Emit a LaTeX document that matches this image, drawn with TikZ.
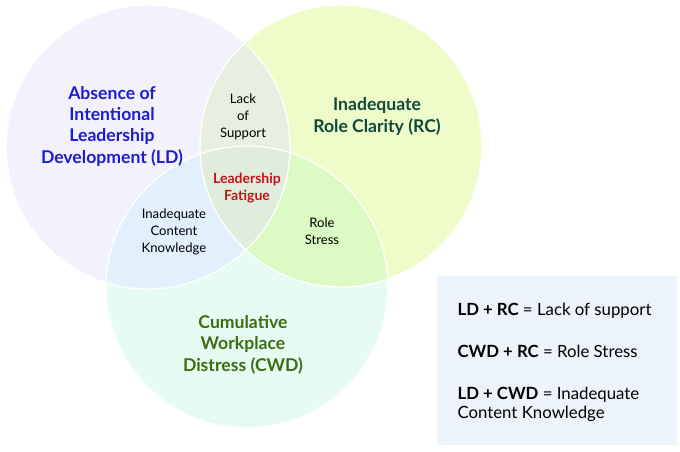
\documentclass[tikz,border=0pt]{standalone}
\usepackage{fontspec}
\setmainfont{Lato}
\definecolor{ldfill}{HTML}{F3F2FC}
\definecolor{rcfill}{HTML}{EDFCC9}
\definecolor{cwfill}{HTML}{E6FCF3}
\definecolor{abfill}{HTML}{E6EFE0}
\definecolor{acfill}{HTML}{E2EFFC}
\definecolor{bcfill}{HTML}{DCFAC3}
\definecolor{abcfill}{HTML}{E1EDDC}
\definecolor{boxfill}{HTML}{EDF3FA}
\definecolor{ldtext}{HTML}{1C1CD4}
\definecolor{rctext}{HTML}{11483A}
\definecolor{cwtext}{HTML}{3B6E10}
\definecolor{redtext}{HTML}{C4121A}
\begin{document}
\begin{tikzpicture}[x=1pt,y=-1pt,
  bigtitle/.style={anchor=base,align=center,font=\bfseries\fontsize{17.6}{21.3}\selectfont},
  smalltxt/.style={anchor=base,align=center,font=\fontsize{13.1}{16.7}\selectfont,text=black},
  boxtxt/.style={anchor=base west,align=left,font=\fontsize{16.8}{19}\selectfont,text=black},
  ring/.style={draw=white,line width=1.3pt}]
\useasboundingbox (0,0) rectangle (680,451);
\coordinate (cLD) at (148,147);
\coordinate (cRC) at (341,146);
\coordinate (cCW) at (247,287);
% base fills
\fill[ldfill] (cLD) circle[radius=142pt];
\fill[rcfill] (cRC) circle[radius=141pt];
\fill[cwfill] (cCW) circle[radius=141pt];
% overlaps
\begin{scope}
  \clip (cLD) circle[radius=142pt];
  \fill[abfill] (cRC) circle[radius=141pt];
  \fill[acfill] (cCW) circle[radius=141pt];
\end{scope}
\begin{scope}
  \clip (cRC) circle[radius=141pt];
  \fill[bcfill] (cCW) circle[radius=141pt];
\end{scope}
\begin{scope}
  \clip (cLD) circle[radius=142pt];
  \clip (cRC) circle[radius=141pt];
  \fill[abcfill] (cCW) circle[radius=141pt];
\end{scope}
% white outlines
\draw[ring] (cCW) circle[radius=141pt];
\draw[ring] (cLD) circle[radius=142pt];
\draw[ring] (cRC) circle[radius=141pt];
% titles (base = last line baseline)
\node[bigtitle,text=ldtext] (ld) at (112,163) {Absence of\\Intentional\\Leadership\\Development (LD)};
\node[bigtitle,text=rctext] (rc) at (377,132) {Inadequate\\Role Clarity (RC)};
\node[bigtitle,text=cwtext] (cw) at (243,371) {Cumulative\\Workplace\\Distress (CWD)};
% overlaps text
\node[smalltxt] (lack) at (243,137) {Lack\\of\\Support};
\node[smalltxt,text=redtext,font=\bfseries\fontsize{14}{16.7}\selectfont] (fat) at (247,200) {Leadership\\Fatigue};
\node[smalltxt] (ick) at (174,252) {Inadequate\\Content\\Knowledge};
\node[smalltxt] (rs) at (322,244) {Role\\Stress};
% legend box
\node[fill=boxfill,minimum width=240pt,minimum height=169pt,inner sep=0pt] (box) at (557,360.5) {};
\node[boxtxt] (k1) at (454,315) {\textbf{LD + RC} = Lack of support};
\node[boxtxt] (k2) at (454,357) {\textbf{CWD + RC} = Role Stress};
\node[boxtxt] (k3) at (454,418) {\textbf{LD + CWD} = Inadequate\\Content Knowledge};
\end{tikzpicture}
\end{document}
